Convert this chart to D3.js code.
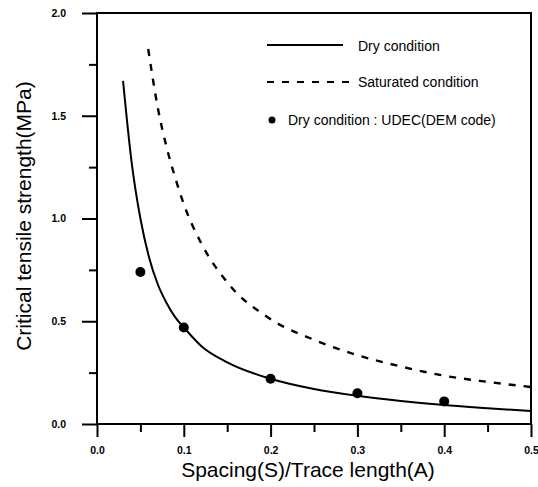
<!DOCTYPE html>
<html>
<head>
<meta charset="utf-8">
<script src="https://cdn.jsdelivr.net/npm/d3@7"></script>
<style>
  body { margin: 0; background: #fff; }
  svg text { fill: #000; }
</style>
</head>
<body>
<div id="chart"></div>
<script>
// values
var dry_x = [0.030, 0.040, 0.050, 0.060, 0.070, 0.080, 0.090, 0.100, 0.120, 0.150, 0.200, 0.250, 0.300, 0.350, 0.400, 0.450, 0.500];
var dry_y = [1.67, 1.27, 1.00, 0.81, 0.68, 0.59, 0.52, 0.47, 0.38, 0.30, 0.22, 0.170, 0.137, 0.112, 0.092, 0.077, 0.063];

var sat_x = [0.059, 0.070, 0.080, 0.090, 0.100, 0.120, 0.150, 0.200, 0.250, 0.300, 0.350, 0.400, 0.450, 0.500];
var sat_y = [1.825, 1.54, 1.35, 1.20, 1.07, 0.88, 0.69, 0.51, 0.41, 0.335, 0.28, 0.235, 0.205, 0.18];

var udec_x = [0.05, 0.10, 0.20, 0.30, 0.40];
var udec_y = [0.74, 0.47, 0.22, 0.15, 0.11];

var x_ticks = [0, 0.1, 0.2, 0.3, 0.4, 0.5];
var x_minor = [0.05, 0.15, 0.25, 0.35, 0.45];
var y_ticks = [0, 0.5, 1.0, 1.5, 2.0];
var y_minor = [0.25, 0.75, 1.25, 1.75];

var legend_labels = ['Dry condition', 'Saturated condition', 'Dry condition : UDEC(DEM code)'];
var x_title = 'Spacing(S)/Trace length(A)';
var y_title = 'Critical tensile strength(MPa)';

var width = 538, height = 487;
var plot_left = 97, plot_right = 531, plot_top = 13, plot_bottom = 424;

var svg = d3.select('#chart')
    .append('svg')
        .attr('width', width)
        .attr('height', height);

var x = d3.scaleLinear().domain([0, 0.5]).range([plot_left, plot_right]);
var y = d3.scaleLinear().domain([0, 2]).range([plot_bottom, plot_top]);

var tickFont = 'Liberation Sans Narrow, Arial Narrow, Liberation Sans, sans-serif';
var textFont = 'Liberation Sans, Arial, sans-serif';

// minor ticks first, then major with labels
svg.append('g')
    .attr('transform', 'translate(0,' + plot_bottom + ')')
    .call(d3.axisBottom(x).tickValues(x_minor).tickSize(8).tickSizeOuter(0).tickFormat(''))
    .call(g => g.select('.domain').remove());
svg.append('g')
    .attr('transform', 'translate(0,' + plot_bottom + ')')
    .call(d3.axisBottom(x).tickValues(x_ticks).tickSize(13).tickSizeOuter(0).tickPadding(10).tickFormat(d3.format('.1f')))
    .call(g => g.select('.domain').remove());

svg.append('g')
    .attr('transform', 'translate(' + plot_left + ',0)')
    .call(d3.axisLeft(y).tickValues(y_minor).tickSize(8).tickSizeOuter(0).tickFormat(''))
    .call(g => g.select('.domain').remove());
svg.append('g')
    .attr('transform', 'translate(' + plot_left + ',0)')
    .call(d3.axisLeft(y).tickValues(y_ticks).tickSize(15).tickSizeOuter(0).tickPadding(16).tickFormat(d3.format('.1f')))
    .call(g => g.select('.domain').remove());

svg.selectAll('.tick line').attr('stroke', '#000').attr('stroke-width', 2);
svg.selectAll('.tick text')
    .style('font-family', tickFont)
    .style('font-size', '10.5px')
    .style('font-weight', 'bold');

// frame
svg.append('rect')
    .attr('x', plot_left).attr('y', plot_top)
    .attr('width', plot_right - plot_left).attr('height', plot_bottom - plot_top)
    .attr('fill', 'none')
    .attr('stroke', '#000')
    .attr('stroke-width', 2);

// curves
var line = d3.line()
    .x(function(d) { return x(d[0]); })
    .y(function(d) { return y(d[1]); })
    .curve(d3.curveMonotoneX);

svg.append('path')
    .datum(d3.zip(dry_x, dry_y))
    .attr('d', line)
    .attr('fill', 'none')
    .attr('stroke', '#000')
    .attr('stroke-width', 2);

svg.append('path')
    .datum(d3.zip(sat_x, sat_y))
    .attr('d', line)
    .attr('fill', 'none')
    .attr('stroke', '#000')
    .attr('stroke-width', 2.4)
    .attr('stroke-dasharray', '7,8');

svg.selectAll('circle.udec').data(d3.zip(udec_x, udec_y))
    .enter().append('circle')
    .attr('class', 'udec')
    .attr('cx', function(d) { return x(d[0]); })
    .attr('cy', function(d) { return y(d[1]); })
    .attr('r', 5)
    .attr('fill', '#000');

// legend
var lg = svg.append('g').style('font-family', textFont).style('font-size', '14px');
lg.append('line').attr('x1', 267).attr('x2', 343).attr('y1', 45).attr('y2', 45)
    .attr('stroke', '#000').attr('stroke-width', 1.8);
lg.append('text').attr('x', 358).attr('y', 51).text(legend_labels[0]);
lg.append('line').attr('x1', 267).attr('x2', 350).attr('y1', 82).attr('y2', 82)
    .attr('stroke', '#000').attr('stroke-width', 1.8).attr('stroke-dasharray', '7,8');
lg.append('text').attr('x', 358).attr('y', 87).text(legend_labels[1]);
lg.append('circle').attr('cx', 272).attr('cy', 120).attr('r', 3.5).attr('fill', '#000');
lg.append('text').attr('x', 288).attr('y', 125).text(legend_labels[2]);

// axis titles
svg.append('text')
    .attr('x', 308)
    .attr('y', 477)
    .attr('text-anchor', 'middle')
    .style('font-family', textFont)
    .style('font-size', '21px')
    .text(x_title);

svg.append('text')
    .attr('transform', 'translate(31,216) rotate(-90)')
    .attr('text-anchor', 'middle')
    .style('font-family', textFont)
    .style('font-size', '21px')
    .text(y_title);
</script>
</body>
</html>
